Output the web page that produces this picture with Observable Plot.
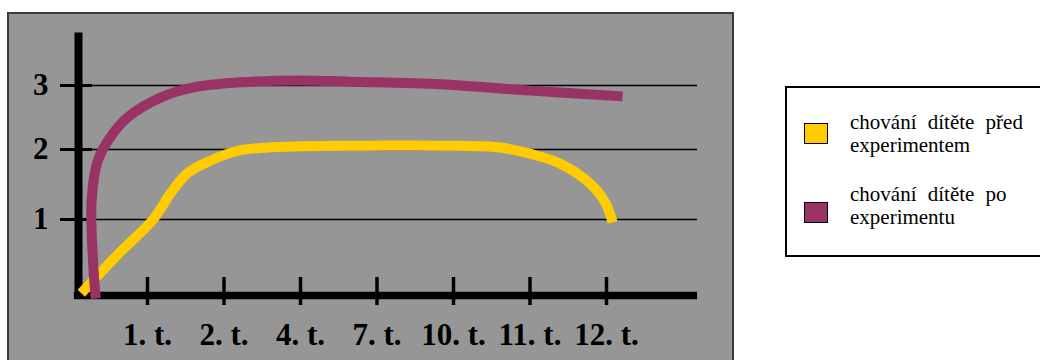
<!DOCTYPE html>
<html>
<head>
<meta charset="utf-8">
<script src="https://cdn.jsdelivr.net/npm/d3@7"></script>
<script src="https://cdn.jsdelivr.net/npm/@observablehq/plot@0.6"></script>
<style>
  html, body { margin: 0; padding: 0; background: #fff; }
  #wrap { position: relative; width: 1040px; height: 360px; overflow: hidden; background: #fff; }
  #panel { position: absolute; left: 7px; top: 12px; width: 723px; height: 400px; background: #969696; border: 2px solid #3a3a3a; }
  #chart { position: absolute; left: 0; top: 0; }
  #chart svg [aria-label="x-axis tick label"], #chart svg [aria-label="y-axis tick label"] {
    font-family: 'Liberation Serif', Tinos, 'Times New Roman', Times, 'DejaVu Serif', serif; font-weight: bold; font-size: 31px;
  }
  #legend { position: absolute; left: 785px; top: 86px; width: 300px; height: 167px; border: 2px solid #000; background: #fff; }
  .sw { position: absolute; width: 22px; height: 19px; border: 1.5px solid #000; }
  .lt { position: absolute; left: 850px; font-family: 'Liberation Serif', Tinos, 'Times New Roman', Times, 'DejaVu Serif', serif; font-size: 21px; line-height: 23px; color: #000; white-space: nowrap; }
  .lt .l1 { word-spacing: 6px; }
</style>
</head>
<body>
<div id="wrap">
  <div id="panel"></div>
  <div id="chart"></div>
  <div id="legend"></div>
  <div id="legendItems"></div>
</div>
<script>
// ---- data ----
const xTicks = [1, 2, 3, 4, 5, 6, 7];
const xLabels = ["1. t.", "2. t.", "4. t.", "7. t.", "10. t.", "11. t.", "12. t."];
const yTicks = [1, 2, 3];

const seriesNames = ["chování dítěte před experimentem", "chování dítěte po experimentu"];
const seriesFirstLine = ["chování dítěte před", "chování dítěte po"];
const seriesSecondLine = ["experimentem", "experimentu"];

// "před experimentem" (yellow)
const beforePos = [0.04, 0.56, 1.08, 1.30, 1.52, 1.82, 2.22, 3.00, 3.92, 4.83, 5.61, 6.00, 6.39, 6.79, 6.99, 7.08];
const beforeVal = [0.03, 0.53, 1.01, 1.37, 1.66, 1.84, 1.99, 2.05, 2.06, 2.06, 2.03, 1.94, 1.80, 1.51, 1.23, 0.96];

// "po experimentu" (purple)
const afterPos = [0.25, 0.21, 0.19, 0.28, 0.46, 0.71, 1.17, 1.60, 2.22, 3.00, 3.65, 4.83, 6.00, 7.21];
const afterVal = [-0.04, 0.46, 1.27, 1.84, 2.19, 2.50, 2.81, 2.97, 3.05, 3.08, 3.06, 3.02, 2.92, 2.83];

// ---- build ----
const before = beforePos.map((p, i) => ({pos: p, val: beforeVal[i]}));
const after = afterPos.map((p, i) => ({pos: p, val: afterVal[i]}));

const colors = ["#FFCC00", "#993366"];
const FONT = "'Liberation Serif', Tinos, 'Times New Roman', Times, 'DejaVu Serif', serif";

// axis-line extents (in scale units)
const xAxisStart = -0.06, xAxisEnd = 8.19;
const yAxisBottom = -0.04, yAxisTop = 3.82;

const chart = Plot.plot({
  width: 740,
  height: 360,
  marginLeft: 92,
  marginRight: 43,
  marginTop: 20,
  marginBottom: 83,
  style: {background: "transparent", overflow: "visible"},
  x: {type: "linear", domain: [0, 1, 7], range: [78, 147, 606]},
  y: {type: "linear", domain: [0, 1, 2, 3], range: [295, 219, 149, 85]},
  marks: [
    Plot.gridY(yTicks, {stroke: "#000", strokeOpacity: 1, strokeWidth: 1.5}),
    Plot.axisY({ticks: yTicks, tickSize: 32, tickPadding: 12, strokeWidth: 3, label: null,
      fontSize: 31, fontWeight: "bold", fontFamily: FONT, tickFormat: d => String(d)}),
    Plot.axisX({ticks: xTicks, tickSize: 28, tickPadding: 17, strokeWidth: 3.5, label: null,
      fontSize: 31, fontWeight: "bold", fontFamily: FONT,
      tickFormat: d => xLabels[xTicks.indexOf(d)]}),
    Plot.ruleY([0], {x1: xAxisStart, x2: xAxisEnd, stroke: "#000", strokeWidth: 7.5}),
    Plot.ruleX([0], {y1: yAxisBottom, y2: yAxisTop, stroke: "#000", strokeWidth: 8}),
    Plot.line(before, {x: "pos", y: "val", stroke: colors[0], strokeWidth: 10,
      curve: "catmull-rom", strokeLinecap: "butt", strokeLinejoin: "round"}),
    Plot.line(after, {x: "pos", y: "val", stroke: colors[1], strokeWidth: 10,
      curve: "catmull-rom", strokeLinecap: "butt", strokeLinejoin: "round"})
  ]
});
document.getElementById("chart").appendChild(chart);

// legend
const items = document.getElementById("legendItems");
const swTop = [123, 202];
const txtTop = [111, 183];
seriesNames.forEach((name, i) => {
  const sw = document.createElement("div");
  sw.className = "sw";
  sw.style.left = "804px";
  sw.style.top = swTop[i] + "px";
  sw.style.background = colors[i];
  sw.title = name;
  items.appendChild(sw);
  const t = document.createElement("div");
  t.className = "lt";
  t.style.top = txtTop[i] + "px";
  const a = document.createElement("div"); a.className = "l1"; a.textContent = seriesFirstLine[i];
  const b = document.createElement("div"); b.textContent = seriesSecondLine[i];
  t.appendChild(a); t.appendChild(b);
  items.appendChild(t);
});
</script>
</body>
</html>
